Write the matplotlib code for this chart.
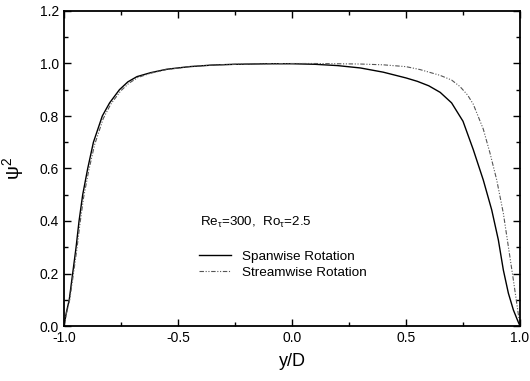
import matplotlib
matplotlib.use("Agg")
import matplotlib.pyplot as plt
from matplotlib.ticker import MultipleLocator, FormatStrFormatter

plt.rcParams['font.family'] = ['Liberation Sans', 'DejaVu Sans']
plt.rcParams['mathtext.fontset'] = 'custom'
plt.rcParams['mathtext.rm'] = 'Liberation Sans'
plt.rcParams['mathtext.it'] = 'Liberation Sans'

span_x = [-1.0, -0.99, -0.977, -0.962, -0.947, -0.934, -0.918, -0.896, -0.871, -0.832,
          -0.80, -0.757, -0.72, -0.68, -0.62, -0.55, -0.45, -0.35, -0.25, -0.1,
          0.0, 0.1, 0.2, 0.3, 0.4, 0.5, 0.55, 0.6, 0.65, 0.7,
          0.75, 0.795, 0.839, 0.876, 0.905, 0.927, 0.949, 0.971, 0.99, 1.0]
span_y = [0.0, 0.05, 0.10, 0.20, 0.30, 0.40, 0.50, 0.60, 0.70, 0.80,
          0.85, 0.90, 0.93, 0.95, 0.965, 0.978, 0.988, 0.994, 0.997, 0.999,
          0.999, 0.997, 0.992, 0.983, 0.967, 0.945, 0.932, 0.915, 0.89, 0.85,
          0.78, 0.672, 0.556, 0.442, 0.328, 0.213, 0.125, 0.061, 0.02, 0.0]

stream_x = [-1.0, -0.99, -0.975, -0.96, -0.944, -0.93, -0.914, -0.892, -0.866, -0.828,
            -0.795, -0.752, -0.715, -0.675, -0.62, -0.55, -0.45, -0.35, -0.25, -0.1,
            0.0, 0.1, 0.2, 0.3, 0.4, 0.5, 0.561, 0.649, 0.7, 0.737, 0.77, 0.795,
            0.839, 0.868, 0.898, 0.927, 0.949, 0.971, 0.988, 1.0]
stream_y = [0.0, 0.045, 0.10, 0.19, 0.29, 0.39, 0.49, 0.59, 0.69, 0.79,
            0.845, 0.895, 0.925, 0.947, 0.963, 0.977, 0.988, 0.994, 0.997, 0.999,
            1.0, 1.0, 0.999, 0.998, 0.995, 0.988, 0.977, 0.955, 0.937, 0.912, 0.88, 0.845,
            0.75, 0.66, 0.556, 0.429, 0.302, 0.175, 0.073, 0.0]

fig = plt.figure(figsize=(5.3, 3.81), dpi=100)
ax = fig.add_axes([64/530, 1-326/381, 456/530, 315/381])

ax.plot(span_x, span_y, color='black', lw=1.0, label='Spanwise Rotation')
ax.plot(stream_x, stream_y, color='#555555', lw=0.8, dashes=(4, 1.5, 1, 1.5, 1, 1.5),
        label='Streamwise Rotation')

ax.set_xlim(-1.0, 1.0)
ax.set_ylim(0.0, 1.2)
ax.xaxis.set_major_locator(MultipleLocator(0.5))
ax.xaxis.set_minor_locator(MultipleLocator(0.25))
ax.yaxis.set_major_locator(MultipleLocator(0.2))
ax.yaxis.set_minor_locator(MultipleLocator(0.1))
ax.xaxis.set_major_formatter(FormatStrFormatter('%.1f'))
ax.yaxis.set_major_formatter(FormatStrFormatter('%.1f'))
ax.tick_params(which='both', direction='in', top=True, right=True, labelsize=10, width=1)
ax.tick_params(which='major', length=5)
ax.tick_params(which='minor', length=3)
for s in ax.spines.values():
    s.set_linewidth(1.3)

ax.set_xlabel('y/D', fontsize=13, labelpad=6)
ax.set_ylabel(r'$\psi^{2}$', fontsize=14, labelpad=10)

ax.text(-0.404, 0.395, r'Re$_{\tau}$=300,  Ro$_{\tau}$=2.5', fontsize=9.6, ha='left', va='center')
ax.legend(loc='upper left', bbox_to_anchor=(0.296, 0.24), frameon=False, fontsize=9.7,
          handlelength=2.4, handletextpad=0.8, labelspacing=0.25, borderpad=0,
          borderaxespad=0)

fig.savefig('out.png', dpi=100)
